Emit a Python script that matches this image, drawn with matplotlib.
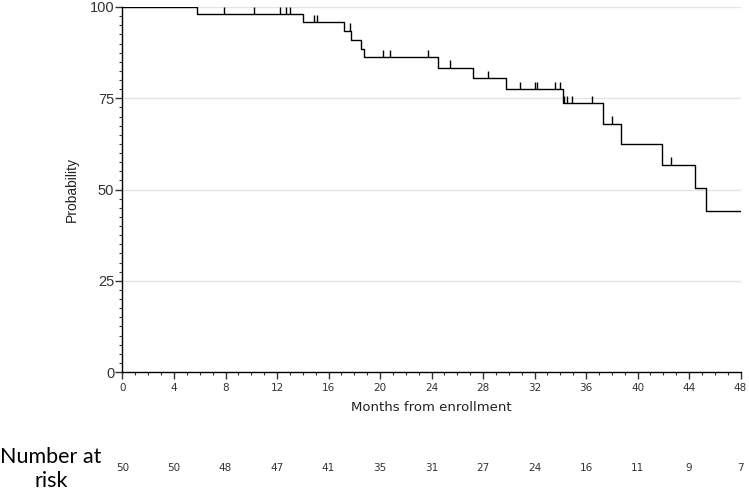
import matplotlib
matplotlib.use("Agg")
import matplotlib.pyplot as plt
import numpy as np
from matplotlib.ticker import MultipleLocator

# Kaplan-Meier step data
step_times = [0, 5.8, 14.05, 17.2, 17.75, 18.55, 18.75, 24.5, 27.2, 29.8, 34.2, 37.3, 38.7, 41.9, 44.5, 45.3]
step_surv = [100, 98.0, 95.8, 93.4, 91.0, 88.6, 86.2, 83.4, 80.5, 77.4, 73.6, 68.0, 62.4, 56.8, 50.5, 44.2]
end_time = 48

censor_times = [7.9, 10.2, 12.2, 12.7, 13.0, 14.9, 15.1, 17.7, 20.25, 20.8, 23.75,
                25.4, 28.4, 30.9, 32.0, 32.2, 33.6, 34.0, 34.3, 34.5, 34.9, 36.5, 38.0, 42.6]

risk_times = [0, 4, 8, 12, 16, 20, 24, 28, 32, 36, 40, 44, 48]
risk_numbers = [50, 50, 48, 47, 41, 35, 31, 27, 24, 16, 11, 9, 7]

W, H = 749, 493
fig = plt.figure(figsize=(W / 100, H / 100), dpi=100)
x0, x1 = 122.5, 740.5
y0, y1 = 372, 7
ax = fig.add_axes([x0 / W, 1 - y0 / H, (x1 - x0) / W, (y0 - y1) / H])

# gridlines
for g in [25, 50, 75, 100]:
    ax.axhline(g, color="#e3e3e3", lw=1.0, zorder=0)

# KM curve
xs = list(step_times) + [end_time]
ys = list(step_surv) + [step_surv[-1]]
ax.step(xs, ys, where="post", color="black", lw=1.0, zorder=3)

# censor marks: small upward ticks from the curve
st = np.array(step_times)
sv = np.array(step_surv)
for t in censor_times:
    s = sv[np.searchsorted(st, t, side="right") - 1]
    ax.vlines(t, s, s + 2.1, color="black", lw=1.0, zorder=3)

ax.set_xlim(0, 48)
ax.set_ylim(0, 100)
ax.xaxis.set_major_locator(MultipleLocator(4))
ax.xaxis.set_minor_locator(MultipleLocator(1))
ax.yaxis.set_major_locator(MultipleLocator(25))
ax.yaxis.set_minor_locator(MultipleLocator(2.5))
for s in ["top", "right"]:
    ax.spines[s].set_visible(False)
ax.spines["left"].set_linewidth(1.0)
ax.spines["bottom"].set_linewidth(1.0)
ax.tick_params(axis="both", which="major", direction="out", length=5, width=1, color="#333333")
ax.tick_params(axis="both", which="minor", direction="out", length=2.5, width=0.8, color="#333333")
ax.tick_params(axis="x", labelsize=7.5, pad=3)
ax.tick_params(axis="y", labelsize=10.5, pad=1)
for lab in ax.get_xticklabels():
    lab.set_family(["Liberation Sans Narrow", "DejaVu Sans"])
    lab.set_color("#333333")
for lab in ax.get_yticklabels():
    lab.set_family(["Liberation Sans", "DejaVu Sans"])
    lab.set_color("#333333")

ax.set_xlabel("Months from enrollment", fontsize=9.5, family=["DejaVu Sans"], color="#222222", labelpad=6)
ax.set_ylabel("Probability", fontsize=10, family=["Liberation Sans", "DejaVu Sans"], color="#222222", labelpad=8)

# number at risk
for t, n in zip(risk_times, risk_numbers):
    xpix = x0 + (x1 - x0) * t / 48
    fig.text(xpix / W, 1 - 468 / H, str(n), ha="center", va="center", fontsize=7.5,
             family=["Liberation Sans Narrow", "DejaVu Sans"], color="#333333")
fig.text(51 / W, 1 - 463 / H, "Number at", ha="center", va="baseline", fontsize=15.5,
         family=["Lato", "DejaVu Sans"], color="black")
fig.text(51 / W, 1 - 487 / H, "risk", ha="center", va="baseline", fontsize=15.5,
         family=["Lato", "DejaVu Sans"], color="black")

fig.savefig("out.png", dpi=100)
